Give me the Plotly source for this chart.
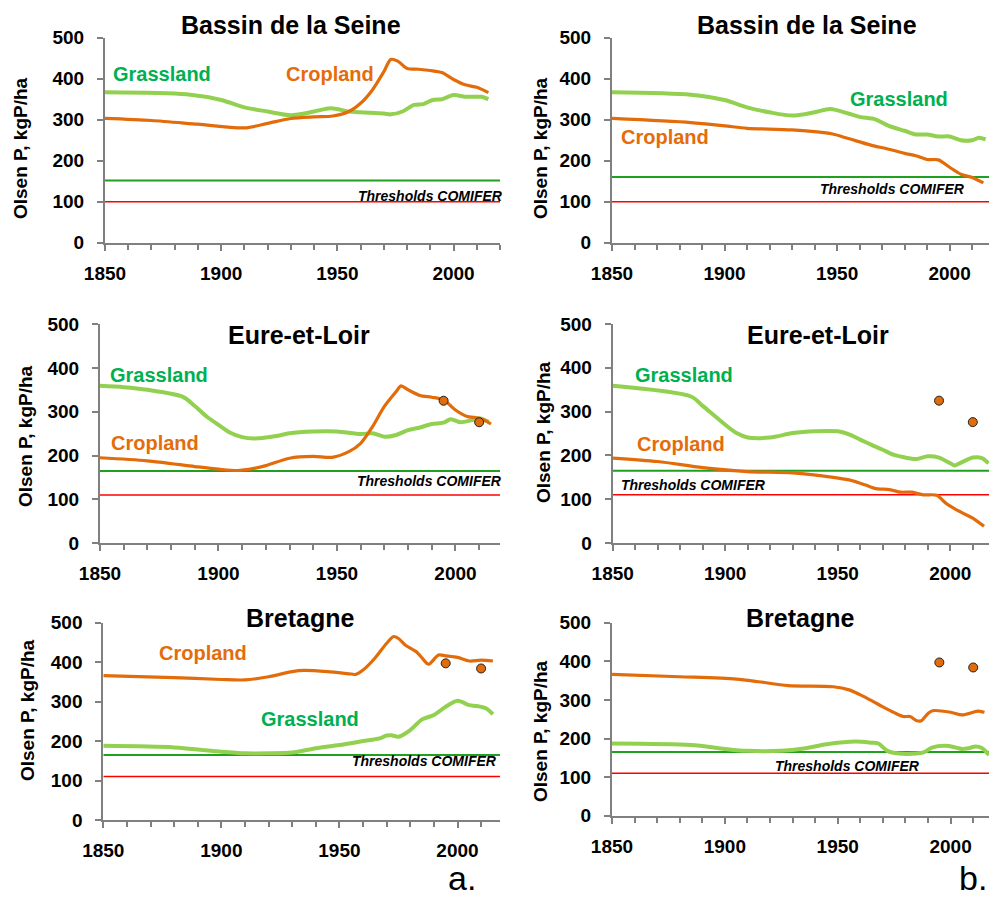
import plotly.graph_objects as go

# ---------------- DATA ----------------
# Panel a1 : Bassin de la Seine (scenario a)
seine_a_grass_years = [1850, 1885, 1900, 1910, 1920, 1930, 1940, 1947, 1955, 1960, 1970, 1973, 1978, 1983, 1987, 1991, 1995, 2000, 2005, 2010, 2012, 2015]
seine_a_grass_vals = [367, 362, 348, 330, 320, 311, 320, 328, 320, 318, 315, 313, 320, 336, 338, 348, 350, 360, 356, 356, 356, 350]
seine_a_crop_years = [1850, 1870, 1890, 1910, 1920, 1930, 1940, 1948, 1955, 1960, 1965, 1970, 1973, 1976, 1980, 1985, 1990, 1995, 2000, 2005, 2010, 2015]
seine_a_crop_vals = [303, 298, 289, 280, 291, 303, 307, 309, 320, 340, 372, 417, 447, 443, 425, 423, 420, 415, 398, 385, 379, 366]

# Panel b1 : Bassin de la Seine (scenario b)
seine_b_grass_years = [1850, 1885, 1900, 1910, 1920, 1930, 1940, 1947, 1955, 1960, 1967, 1973, 1980, 1985, 1990, 1995, 2000, 2005, 2010, 2013, 2016]
seine_b_grass_vals = [367, 361, 348, 330, 318, 310, 318, 326, 315, 307, 301, 285, 273, 264, 264, 259, 259, 250, 250, 256, 252]
seine_b_crop_years = [1850, 1885, 1900, 1910, 1930, 1948, 1955, 1965, 1973, 1980, 1985, 1990, 1995, 2000, 2005, 2010, 2015]
seine_b_crop_vals = [303, 293, 285, 279, 275, 265, 254, 238, 228, 218, 212, 203, 202, 184, 167, 159, 146]

# Panel a2 : Eure-et-Loir (scenario a)
eure_a_grass_years = [1850, 1860, 1870, 1885, 1890, 1895, 1900, 1905, 1910, 1915, 1920, 1925, 1930, 1940, 1950, 1960, 1965, 1970, 1975, 1980, 1985, 1990, 1995, 1998, 2002, 2007, 2010, 2014]
eure_a_grass_vals = [359, 356, 350, 334, 313, 289, 270, 252, 242, 239, 241, 245, 251, 255, 255, 249, 251, 243, 247, 258, 264, 272, 275, 283, 276, 281, 285, 277]
eure_a_crop_years = [1850, 1870, 1890, 1900, 1908, 1915, 1920, 1930, 1940, 1948, 1955, 1960, 1965, 1970, 1975, 1977, 1980, 1985, 1990, 1995, 2000, 2005, 2008, 2012, 2015]
eure_a_crop_vals = [195, 188, 175, 169, 166, 171, 177, 194, 198, 196, 209, 228, 266, 312, 346, 359, 350, 337, 333, 327, 304, 289, 287, 281, 272]

# Panel b2 : Eure-et-Loir (scenario b)
eure_b_grass_years = [1850, 1885, 1890, 1900, 1905, 1910, 1920, 1930, 1940, 1950, 1955, 1960, 1965, 1970, 1975, 1980, 1985, 1990, 1995, 2000, 2002, 2005, 2010, 2014, 2017]
eure_b_grass_vals = [359, 334, 313, 270, 251, 241, 241, 251, 255, 255, 248, 236, 224, 213, 201, 195, 192, 198, 195, 182, 177, 184, 195, 194, 182]
eure_b_crop_years = [1850, 1870, 1890, 1910, 1930, 1948, 1955, 1962, 1967, 1973, 1978, 1983, 1988, 1994, 1998, 2002, 2006, 2010, 2015]
eure_b_crop_vals = [194, 186, 172, 163, 160, 150, 144, 133, 124, 122, 116, 116, 110, 109, 91, 78, 67, 57, 38]

# Panel a3 : Bretagne (scenario a)
bret_a_crop_years = [1850, 1880, 1900, 1910, 1920, 1930, 1935, 1945, 1955, 1957, 1960, 1965, 1970, 1973, 1975, 1978, 1983, 1987, 1988, 1992, 1995, 2000, 2005, 2010, 2015]
bret_a_crop_vals = [366, 361, 356, 355, 363, 376, 379, 376, 370, 369, 380, 410, 448, 465, 460, 443, 424, 397, 395, 418, 416, 412, 403, 405, 403]
bret_a_grass_years = [1850, 1880, 1900, 1910, 1920, 1930, 1940, 1950, 1960, 1967, 1970, 1972, 1975, 1980, 1985, 1990, 1995, 2000, 2005, 2008, 2012, 2015]
bret_a_grass_vals = [188, 184, 173, 169, 169, 171, 182, 190, 200, 207, 214, 215, 211, 228, 255, 266, 287, 302, 291, 289, 283, 268]

# Panel b3 : Bretagne (scenario b)
bret_b_crop_years = [1850, 1880, 1905, 1915, 1928, 1948, 1955, 1960, 1965, 1970, 1975, 1979, 1982, 1985, 1987, 1990, 1992, 2000, 2005, 2010, 2012, 2015]
bret_b_crop_vals = [366, 360, 354, 347, 337, 334, 326, 313, 298, 282, 267, 257, 257, 246, 246, 265, 272, 268, 261, 268, 271, 268]
bret_b_grass_years = [1850, 1885, 1900, 1910, 1925, 1935, 1945, 1958, 1965, 1968, 1972, 1977, 1985, 1988, 1992, 1998, 2002, 2005, 2008, 2011, 2014, 2017]
bret_b_grass_vals = [187, 183, 173, 168, 168, 174, 185, 192, 189, 187, 168, 161, 161, 164, 177, 181, 177, 173, 175, 179, 175, 157]

# Observed points (cropland)
eure_obs_years = [1995, 2010]
eure_obs_vals = [325, 276]
bret_obs_years = [1995, 2010]
bret_obs_vals = [397, 384]

# Thresholds COMIFER (grassland / cropland)
seine_a_thresholds = [152, 100]
seine_b_thresholds = [160, 100]
eure_thresholds = [165, 110]
bret_thresholds = [165, 110]

panel_titles = ["Bassin de la Seine", "Bassin de la Seine", "Eure-et-Loir", "Eure-et-Loir", "Bretagne", "Bretagne"]
y_ticks = [0, 100, 200, 300, 400, 500]

# ---------------- STYLE ----------------
W, H = 989, 901
GRASS_LINE = "#92D050"
CROP_LINE = "#E36C0A"
GRASS_TXT = "#00B050"
CROP_TXT = "#E46C0A"
THR_GREEN = "#1FA01F"
THR_RED = "#FF0000"
AXIS_COL = "#808080"
FONT = "Liberation Sans, Arial, sans-serif"


def px_x(x):
    return x / W


def px_y(y):
    return 1 - y / H


# panel geometry in pixels: (x_left, x_right, y_top, y_bottom, x_end_year)
panels = [
    (105, 500, 37.7, 242.7, 2020.0),
    (612, 989, 37.7, 242.7, 2017.5),
    (100, 500, 324, 543.3, 2018.8),
    (612.7, 989, 324, 543, 2017.2),
    (103.3, 500, 622.7, 820, 2018.0),
    (612, 989, 622.7, 815.7, 2017.0),
]

panel_data = [
    (seine_a_grass_years, seine_a_grass_vals, seine_a_crop_years, seine_a_crop_vals, None, seine_a_thresholds),
    (seine_b_grass_years, seine_b_grass_vals, seine_b_crop_years, seine_b_crop_vals, None, seine_b_thresholds),
    (eure_a_grass_years, eure_a_grass_vals, eure_a_crop_years, eure_a_crop_vals, (eure_obs_years, eure_obs_vals), eure_thresholds),
    (eure_b_grass_years, eure_b_grass_vals, eure_b_crop_years, eure_b_crop_vals, (eure_obs_years, eure_obs_vals), eure_thresholds),
    (bret_a_grass_years, bret_a_grass_vals, bret_a_crop_years, bret_a_crop_vals, (bret_obs_years, bret_obs_vals), bret_thresholds),
    (bret_b_grass_years, bret_b_grass_vals, bret_b_crop_years, bret_b_crop_vals, (bret_obs_years, bret_obs_vals), bret_thresholds),
]

fig = go.Figure()
layout_axes = {}

for i, ((xl, xr, yt, yb, xend), (gy, gv, cy, cv, obs, thr)) in enumerate(zip(panels, panel_data)):
    n = i + 1
    xa = "x" if n == 1 else f"x{n}"
    ya = "y" if n == 1 else f"y{n}"
    xkey = "xaxis" if n == 1 else f"xaxis{n}"
    ykey = "yaxis" if n == 1 else f"yaxis{n}"

    # threshold lines
    fig.add_trace(go.Scatter(x=[1850, xend], y=[thr[0], thr[0]], mode="lines",
                             line=dict(color=THR_GREEN, width=2), xaxis=xa, yaxis=ya,
                             showlegend=False, hoverinfo="skip"))
    fig.add_trace(go.Scatter(x=[1850, xend], y=[thr[1], thr[1]], mode="lines",
                             line=dict(color=THR_RED, width=1.5), xaxis=xa, yaxis=ya,
                             showlegend=False, hoverinfo="skip"))
    # grassland
    fig.add_trace(go.Scatter(x=gy, y=gv, mode="lines", name="Grassland",
                             line=dict(color=GRASS_LINE, width=4, shape="spline", smoothing=0.8),
                             xaxis=xa, yaxis=ya, showlegend=False))
    # cropland
    fig.add_trace(go.Scatter(x=cy, y=cv, mode="lines", name="Cropland",
                             line=dict(color=CROP_LINE, width=3.2, shape="spline", smoothing=0.8),
                             xaxis=xa, yaxis=ya, showlegend=False))
    if obs is not None:
        fig.add_trace(go.Scatter(x=obs[0], y=obs[1], mode="markers", name="Observed",
                                 marker=dict(color=CROP_LINE, size=9, line=dict(color="#222", width=1)),
                                 xaxis=xa, yaxis=ya, showlegend=False))

    layout_axes[xkey] = dict(
        domain=[px_x(xl), min(px_x(xr), 1.0)], anchor=ya, range=[1850, xend],
        tickmode="linear", tick0=1850, dtick=50,
        ticks="outside", ticklen=6, tickwidth=1.5, tickcolor=AXIS_COL,
        showline=True, linecolor=AXIS_COL, linewidth=2, showgrid=False, zeroline=False,
        automargin=False,
        tickfont=dict(family=FONT, size=19, color="black", weight="bold"),
        ticklabelstandoff=6,
        minor=dict(dtick=10, tick0=1850, ticks="outside", ticklen=5, tickwidth=1.5, tickcolor=AXIS_COL, showgrid=False),
    )
    layout_axes[ykey] = dict(
        domain=[px_y(yb), px_y(yt)], anchor=xa, range=[0, 500],
        tickvals=y_ticks, ticks="outside", ticklen=6, tickwidth=1.5, tickcolor=AXIS_COL,
        showline=True, linecolor=AXIS_COL, linewidth=2, showgrid=False, zeroline=False,
        automargin=False,
        tickfont=dict(family=FONT, size=19, color="black", weight="bold"),
        ticklabelstandoff=9,
    )

annotations = []


def add_text(text, x, y, size, color="black", bold=True, italic=False, xanchor="left", angle=0, yanchor="middle"):
    annotations.append(dict(
        text=text, x=px_x(x), y=px_y(y), xref="paper", yref="paper",
        xanchor=xanchor, yanchor=yanchor, showarrow=False, textangle=angle,
        font=dict(family=FONT, size=size, color=color, weight="bold" if bold else "normal",
                  style="italic" if italic else "normal"),
    ))


# titles
title_pos = [(291, 25), (807, 25), (299, 335), (818, 335), (300, 618), (800, 618)]
for t, (x, y) in zip(panel_titles, title_pos):
    add_text(t, x, y, 25, xanchor="center")

# y axis titles
ytitle_pos = [(20, 148), (540, 148), (25, 436), (543, 432), (27, 710), (540, 731)]
for (x, y) in ytitle_pos:
    add_text("Olsen P, kgP/ha", x, y, 19, xanchor="center", angle=-90)

# threshold labels
thr_pos = [(356, 196), (818, 189), (355, 481), (619, 485), (350, 761), (773, 766)]
for (x, y) in thr_pos:
    add_text("Thresholds COMIFER", x, y, 14, italic=True)

# series labels
add_text("Grassland", 111, 74, 20, GRASS_TXT)
add_text("Cropland", 284, 74, 20, CROP_TXT)
add_text("Grassland", 848, 99, 20, GRASS_TXT)
add_text("Cropland", 619, 137, 20, CROP_TXT)
add_text("Grassland", 108, 375, 20, GRASS_TXT)
add_text("Cropland", 109, 443, 20, CROP_TXT)
add_text("Grassland", 633, 375, 20, GRASS_TXT)
add_text("Cropland", 635, 444, 20, CROP_TXT)
add_text("Cropland", 157, 653, 20, CROP_TXT)
add_text("Grassland", 259, 719, 20, GRASS_TXT)

# panel letters
add_text("a.", 446, 899, 34, bold=False, yanchor="bottom")
add_text("b.", 957, 899, 34, bold=False, yanchor="bottom")

fig.update_layout(
    template="none",
    width=W, height=H, margin=dict(l=0, r=0, t=0, b=0, pad=0),
    paper_bgcolor="white", plot_bgcolor="white",
    showlegend=False, annotations=annotations, **layout_axes,
)

fig.write_html(
    "out.html",
    config={"displayModeBar": False},
    post_script="document.body.style.margin='0';document.documentElement.style.overflow='hidden';document.body.style.overflow='hidden';",
)
